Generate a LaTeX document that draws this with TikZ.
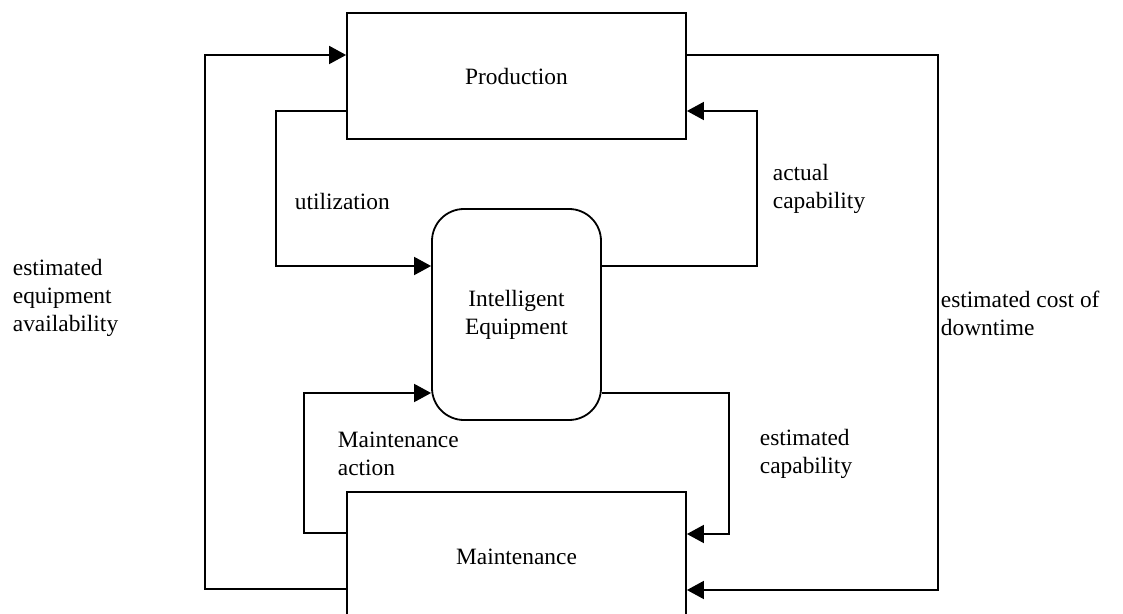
\documentclass[tikz,border=0pt]{standalone}
\usepackage{fontspec}
\setmainfont{Liberation Serif}
\usepackage{tikz}
\usetikzlibrary{arrows.meta, positioning}

\begin{document}
\begin{tikzpicture}[x=0.5pt, y=-0.5pt,
			>={Triangle[length=8.5pt, width=9pt]},   %Pfeilspitzen
			line width=0.9pt,
			font=\fontsize{11.7pt}{14pt}\selectfont,
			block/.style={draw, rectangle, minimum width=169.5pt, inner sep=0pt},
			equip/.style={draw, rounded corners=16pt, minimum width=84.5pt, minimum height=105.5pt, align=center, inner sep=0pt},
			lbl/.style={anchor=west, align=left, inner sep=0pt}]
			%Bildbereich
			\useasboundingbox (0,0) rectangle (1123,614);
			\clip (0,0) rectangle (1123,614);
			%Bloecke
			\node[block, minimum height=63pt] (prod) at (516.5,76) {Production};
			\node[equip] (equip) at (516.5,314.5) {Intelligent\\Equipment};
			\node[block, minimum height=65pt] (maint) at (516.5,557) {Maintenance};
			%Verbindungen
			\draw[->] ([yshift=-16pt]maint.west) -- ++(-141,0) |- ([yshift=10.5pt]prod.west);
			\draw[->] ([yshift=-17.5pt]prod.west) -- ++(-70,0) |- ([yshift=24.25pt]equip.west);
			\draw[->] ([yshift=24.25pt]equip.east) -- ++(155,0) |- ([yshift=-17.5pt]prod.east);
			\draw[->] ([yshift=10.5pt]prod.east) -- ++(251,0) |- ([yshift=-16.5pt]maint.east);
			\draw[->] ([yshift=12pt]maint.west) -- ++(-42,0) |- ([yshift=-39.25pt]equip.west);
			\draw[->] ([yshift=-39.25pt]equip.east) -- ++(127,0) |- ([yshift=11.5pt]maint.east);
			%Beschriftung
			\node[lbl] (util) at (294,201) {utilization};
			\node[lbl] (actcap) at (772,189) {actual\\capability};
			\node[lbl] (estavail) at (12,298) {estimated\\equipment\\availability};
			\node[lbl] (costdown) at (940,313) {estimated cost of\\downtime};
			\node[lbl] (maintact) at (337,454) {Maintenance\\action};
			\node[lbl] (estcap) at (759,454) {estimated\\capability};
		\end{tikzpicture}
\end{document}
